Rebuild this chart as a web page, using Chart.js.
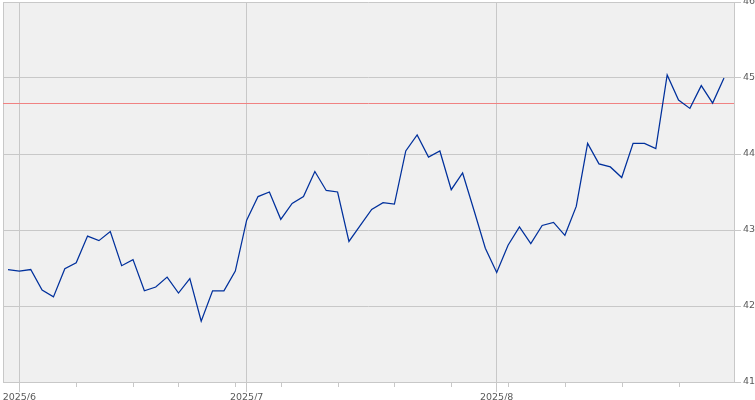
<!DOCTYPE html>
<html>
<head>
<meta charset="utf-8">
<script src="https://cdn.jsdelivr.net/npm/chart.js@4/dist/chart.umd.min.js"></script>
<style>
  html, body { margin: 0; padding: 0; background: #ffffff; }
  canvas { display: block; }
</style>
</head>
<body>
<canvas id="priceChart" width="755" height="400"></canvas>
<script>
// trading days, 2025/5/30 - 2025/8/29
const dates = [
    "5/30",
    "6/2", "6/3", "6/4", "6/5", "6/6", "6/9", "6/10", "6/11", "6/12", "6/13",
    "6/16", "6/17", "6/18", "6/20", "6/23", "6/24", "6/25", "6/26", "6/27", "6/30",
    "7/1", "7/2", "7/3", "7/7", "7/8", "7/9", "7/10", "7/11", "7/14", "7/15",
    "7/16", "7/17", "7/18", "7/21", "7/22", "7/23", "7/24", "7/25", "7/28", "7/29",
    "7/30", "7/31",
    "8/1", "8/4", "8/5", "8/6", "8/7", "8/8", "8/11", "8/12", "8/13", "8/14",
    "8/15", "8/18", "8/19", "8/20", "8/21", "8/22", "8/25", "8/26", "8/27", "8/28",
    "8/29"
];

const closes = [
    42.48, 42.46, 42.48, 42.21, 42.12, 42.49, 42.57, 42.92, 42.86, 42.98,
    42.53, 42.61, 42.20, 42.25, 42.38, 42.17, 42.36, 41.80, 42.20, 42.20,
    42.46, 43.13, 43.44, 43.50, 43.14, 43.35, 43.44, 43.77, 43.52, 43.50,
    42.85, 43.06, 43.27, 43.36, 43.34, 44.04, 44.25, 43.96, 44.04, 43.53,
    43.75, 43.26, 42.76, 42.44, 42.80, 43.04, 42.82, 43.06, 43.10, 42.93,
    43.31, 44.14, 43.87, 43.83, 43.69, 44.14, 44.14, 44.07, 45.04, 44.71,
    44.60, 44.90, 44.67, 45.00
];

const refLevel = 44.67; // horizontal reference line

// month starts (labelled, full grid line) and week starts (short tick)
const monthTicks = [1, 21, 43];
const monthLabels = ["2025/6", "2025/7", "2025/8"];
const weekTicks = [6, 11, 15, 20, 24, 29, 34, 39, 44, 49, 54, 59];

const yTicks = [41, 42, 43, 44, 45, 46];

const gridColor = "#c8c8c8";
const labelFont = { family: "'DejaVu Sans', Verdana, sans-serif", size: 9.5 };

const points = closes.map((v, i) => ({ x: i, y: v }));

const plotDecor = {
    id: "plotDecor",
    beforeDraw(chart) {
        const { ctx, chartArea: a } = chart;
        ctx.save();
        ctx.fillStyle = "#f0f0f0";
        ctx.fillRect(a.left, a.top, a.right - a.left, a.bottom - a.top);
        ctx.strokeStyle = gridColor;
        ctx.lineWidth = 1;
        ctx.beginPath();
        ctx.moveTo(Math.round(a.left) + 0.5, a.top);
        ctx.lineTo(Math.round(a.left) + 0.5, a.bottom);
        ctx.stroke();
        ctx.restore();
    },
    beforeDatasetsDraw(chart) {
        const { ctx, chartArea: a, scales } = chart;
        const y = Math.round(scales.y.getPixelForValue(refLevel)) + 0.5;
        ctx.save();
        ctx.strokeStyle = "#f08282";
        ctx.lineWidth = 1;
        ctx.beginPath();
        ctx.moveTo(a.left, y);
        ctx.lineTo(a.right, y);
        ctx.stroke();
        ctx.restore();
    },
    afterDraw(chart) {
        // short weekly tick marks under the plot
        const { ctx, chartArea: a, scales } = chart;
        ctx.save();
        ctx.strokeStyle = gridColor;
        ctx.lineWidth = 1;
        ctx.beginPath();
        weekTicks.forEach((t) => {
            const x = Math.round(scales.x.getPixelForValue(t)) + 0.5;
            ctx.moveTo(x, a.bottom);
            ctx.lineTo(x, a.bottom + 5);
        });
        ctx.stroke();
        ctx.restore();
    }
};

new Chart(document.getElementById("priceChart").getContext("2d"), {
    type: "line",
    data: {
        datasets: [
            {
                data: points,
                borderColor: "#00309c",
                borderWidth: 1.25,
                pointRadius: 0,
                tension: 0,
                fill: false
            }
        ]
    },
    options: {
        responsive: false,
        animation: false,
        layout: { padding: { left: 3, top: 2, right: 0, bottom: 0 } },
        plugins: {
            legend: { display: false },
            tooltip: { enabled: false }
        },
        scales: {
            x: {
                type: "linear",
                min: -0.44,
                max: 63.88,
                afterBuildTicks: (scale) => {
                    scale.ticks = monthTicks.map((v) => ({ value: v }));
                },
                afterFit: (scale) => {
                    scale.height = 18;
                    scale.paddingLeft = 0;
                    scale.paddingRight = 0;
                },
                ticks: {
                    autoSkip: false,
                    maxRotation: 0,
                    padding: 0,
                    color: "#5a5a5a",
                    font: labelFont,
                    callback: (value) => {
                        const k = monthTicks.indexOf(value);
                        return k >= 0 ? monthLabels[k] : "";
                    }
                },
                grid: {
                    color: gridColor,
                    tickColor: gridColor,
                    tickLength: 10,
                    lineWidth: 1
                },
                border: { display: true, color: gridColor }
            },
            y: {
                position: "right",
                min: 41,
                max: 46,
                afterBuildTicks: (scale) => {
                    scale.ticks = yTicks.map((v) => ({ value: v }));
                },
                afterFit: (scale) => {
                    scale.width = 21;
                    scale.paddingTop = 0;
                    scale.paddingBottom = 0;
                },
                ticks: {
                    padding: 2,
                    color: "#5a5a5a",
                    font: labelFont
                },
                grid: {
                    color: gridColor,
                    tickColor: gridColor,
                    tickLength: 7,
                    lineWidth: 1
                },
                border: { display: true, color: gridColor }
            }
        }
    },
    plugins: [plotDecor]
});
</script>
</body>
</html>
